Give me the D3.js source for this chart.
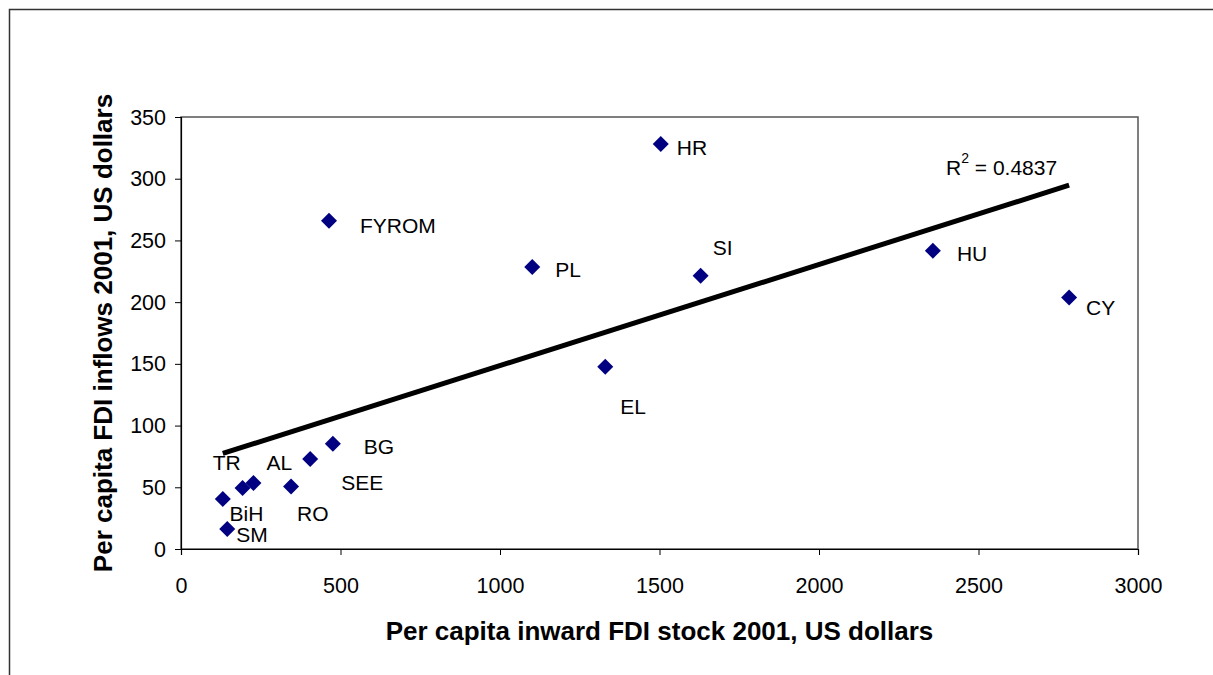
<!DOCTYPE html>
<html><head><meta charset="utf-8">
<script src="https://cdn.jsdelivr.net/npm/d3@7"></script>
<style>
html,body{margin:0;padding:0;background:#fff;}
svg{display:block;font-family:"Liberation Sans",Arial,sans-serif;}
</style></head>
<body>
<svg id="chart" width="1213" height="675"></svg>
<script>
// ---- data ----
const countries = ["TR","BiH","AL","SM","RO","SEE","BG","FYROM","PL","SI","HR","EL","HU","CY"];
const stockPerCapita = [131,193,227,145,345,405,476,464,1101,1629,1504,1330,2357,2784];
const inflowsPerCapita = [40.5,49.4,53.5,16.2,50.7,72.9,85.3,266,228.5,221.4,328.1,147.7,241.7,203.8];
const xTickValues = [0,500,1000,1500,2000,2500,3000];
const yTickValues = [0,50,100,150,200,250,300,350];
const r2Text = "0.4837";
const xTitle = "Per capita inward FDI stock 2001, US dollars";
const yTitle = "Per capita FDI inflows 2001, US dollars";
// label placement (pixels relative to marker)
const labelOffsets = {
  TR:[-10,-37], BiH:[-13,25], AL:[13,-20], SM:[9,5], RO:[6,27], SEE:[31,23],
  BG:[31,3], FYROM:[31,5], PL:[23,3], SI:[12,-28], HR:[16,3], EL:[15,40],
  HU:[24,3], CY:[17,10]
};

const svg = d3.select("#chart");
const L = 181, R = 1138, T = 117, B = 549;
const x = d3.scaleLinear().domain([0,3000]).range([L,R]);
const y = d3.scaleLinear().domain([0,350]).range([B,T]);

// outer frame (extends past the picture on right and bottom)
svg.append("path").attr("d","M9.5,675 L9.5,9.5 L1213,9.5")
  .attr("fill","none").attr("stroke","#333").attr("stroke-width",1.5);

// plot area frame
svg.append("rect").attr("x",L).attr("y",T).attr("width",R-L).attr("height",B-T)
  .attr("fill","none").attr("stroke","#555").attr("stroke-width",1.5);

// axes
const xAxis = d3.axisBottom(x).tickValues(xTickValues).tickSize(6).tickPadding(21).tickFormat(d3.format("d"));
const yAxis = d3.axisLeft(y).tickValues(yTickValues).tickSize(6).tickPadding(9).tickFormat(d3.format("d"));
const gx = svg.append("g").attr("transform",`translate(0,${B})`).call(xAxis);
const gy = svg.append("g").attr("transform",`translate(${L},0)`).call(yAxis);
[gx,gy].forEach(g=>{
  g.select(".domain").attr("stroke","#000").attr("stroke-width",1.2);
  g.selectAll(".tick line").attr("stroke","#000").attr("stroke-width",1);
  g.selectAll(".tick text").attr("fill","#000").attr("font-size",21.5)
   .attr("font-family","'Liberation Sans',Arial,sans-serif");
});
gx.selectAll(".tick text").attr("dy",null).attr("dominant-baseline","central").attr("y",37);
gy.selectAll(".tick text").attr("dy",null).attr("dominant-baseline","central");

// titles
svg.append("text").attr("x",(L+R)/2).attr("y",631).attr("text-anchor","middle")
  .attr("dominant-baseline","central").attr("font-size",26).attr("font-weight","bold").text(xTitle);
svg.append("text").attr("transform",`translate(103,${(T+B)/2}) rotate(-90)`).attr("text-anchor","middle")
  .attr("dominant-baseline","central").attr("font-size",26).attr("font-weight","bold").text(yTitle);

// trendline (least squares)
const pts = countries.map((c,i)=>({c, x:stockPerCapita[i], y:inflowsPerCapita[i]}));
const mx = d3.mean(pts,d=>d.x), my = d3.mean(pts,d=>d.y);
const sxy = d3.sum(pts,d=>(d.x-mx)*(d.y-my)), sxx = d3.sum(pts,d=>(d.x-mx)**2);
const slope = sxy/sxx, icpt = my - slope*mx;
const [x0,x1] = d3.extent(pts,d=>d.x);
svg.append("line").attr("x1",x(x0)).attr("y1",y(icpt+slope*x0))
  .attr("x2",x(x1)).attr("y2",y(icpt+slope*x1))
  .attr("stroke","#000").attr("stroke-width",5);

// R² label
const rt = svg.append("text").attr("x",946).attr("y",167).attr("dominant-baseline","central")
  .attr("font-size",21);
rt.append("tspan").text("R");
rt.append("tspan").attr("font-size",14).attr("dy",-9).text("2");
rt.append("tspan").attr("dy",9).text(" = " + r2Text);

// markers
svg.append("g").selectAll("path").data(pts).join("path")
  .attr("d", d3.symbol().type(d3.symbolSquare).size(128))
  .attr("transform", d=>`translate(${x(d.x)},${y(d.y)}) rotate(45)`)
  .attr("fill","#000080");

// labels
svg.append("g").selectAll("text").data(pts).join("text")
  .attr("x", d=>x(d.x)+labelOffsets[d.c][0])
  .attr("y", d=>y(d.y)+labelOffsets[d.c][1])
  .attr("dominant-baseline","central").attr("font-size",21).attr("fill","#000")
  .text(d=>d.c);
</script>
</body></html>
